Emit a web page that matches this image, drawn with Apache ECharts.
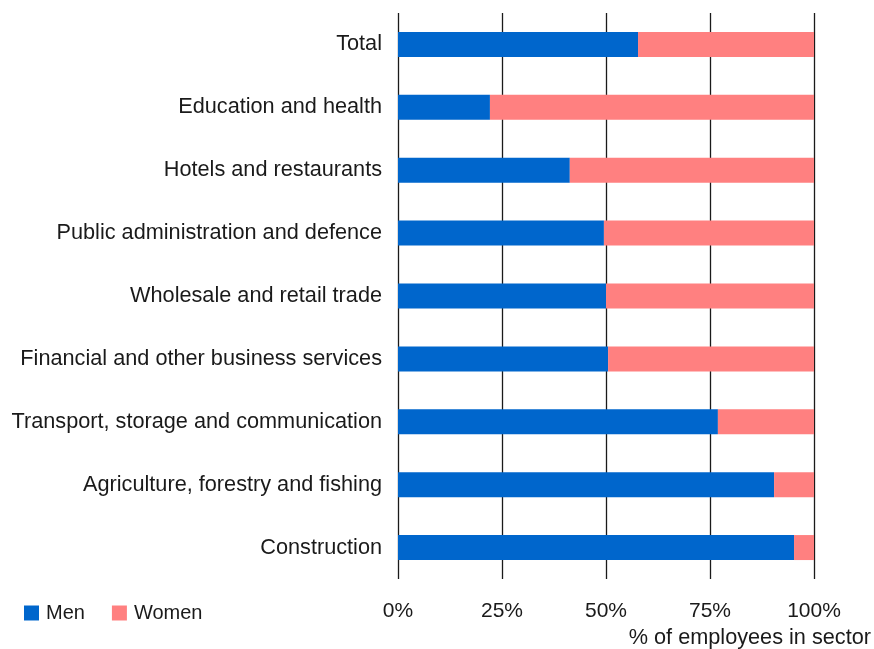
<!DOCTYPE html>
<html>
<head>
<meta charset="utf-8">
<script src="https://cdn.jsdelivr.net/npm/echarts@6/dist/echarts.min.js"></script>
<style>
  html, body { margin: 0; padding: 0; background: #ffffff; }
  #chart { width: 874px; height: 649px; }
</style>
</head>
<body>
<div id="chart"></div>
<script>
// Share of employees by sex in each sector (%)
const sectors = [
  'Total',
  'Education and health',
  'Hotels and restaurants',
  'Public administration and defence',
  'Wholesale and retail trade',
  'Financial and other business services',
  'Transport, storage and communication',
  'Agriculture, forestry and fishing',
  'Construction'
];
const men   = [57.7, 22.1, 41.3, 49.5, 50.0, 50.5, 76.9, 90.4, 95.2];
const women = [42.3, 77.9, 58.7, 50.5, 50.0, 49.5, 23.1, 9.6, 4.8];
const xTicks = [0, 25, 50, 75, 100];

const FONT = '"Liberation Sans", Arial, sans-serif';
const TEXT = '#1a1a1a';

const chart = echarts.init(document.getElementById('chart'), null, { renderer: 'canvas' });

chart.setOption({
  animation: false,
  backgroundColor: '#ffffff',
  textStyle: { fontFamily: FONT, color: TEXT },
  legend: {
    left: 19,
    top: 598,
    icon: 'rect',
    itemWidth: 15,
    itemHeight: 15,
    itemGap: 27,
    textStyle: { fontFamily: FONT, fontSize: 20, color: TEXT, padding: [0, 0, 0, 2] },
    data: ['Men', 'Women']
  },
  grid: { left: 398, right: 60, top: 13, bottom: 70, containLabel: false },
  xAxis: {
    type: 'value',
    min: xTicks[0],
    max: xTicks[xTicks.length - 1],
    interval: 25,
    axisLine: { show: false },
    axisTick: { show: false },
    splitLine: { show: true, lineStyle: { color: '#1a1a1a', width: 1.3 } },
    axisLabel: {
      margin: 22,
      fontFamily: FONT,
      fontSize: 21,
      color: TEXT,
      formatter: v => v + '%'
    }
  },
  yAxis: {
    type: 'category',
    inverse: true,
    data: sectors,
    axisLine: { show: false },
    axisTick: { show: false },
    splitLine: { show: false },
    axisLabel: { margin: 16, fontFamily: FONT, fontSize: 21.7, color: TEXT }
  },
  graphic: [{
    type: 'text',
    right: 3,
    top: 627,
    style: { text: '% of employees in sector', font: '21.7px ' + FONT, fill: TEXT }
  }],
  series: [
    {
      name: 'Men', type: 'bar', stack: 'total', data: men,
      barWidth: 25, itemStyle: { color: '#0066cc' }
    },
    {
      name: 'Women', type: 'bar', stack: 'total', data: women,
      barWidth: 25, itemStyle: { color: '#ff8080' }
    }
  ]
});
</script>
</body>
</html>
